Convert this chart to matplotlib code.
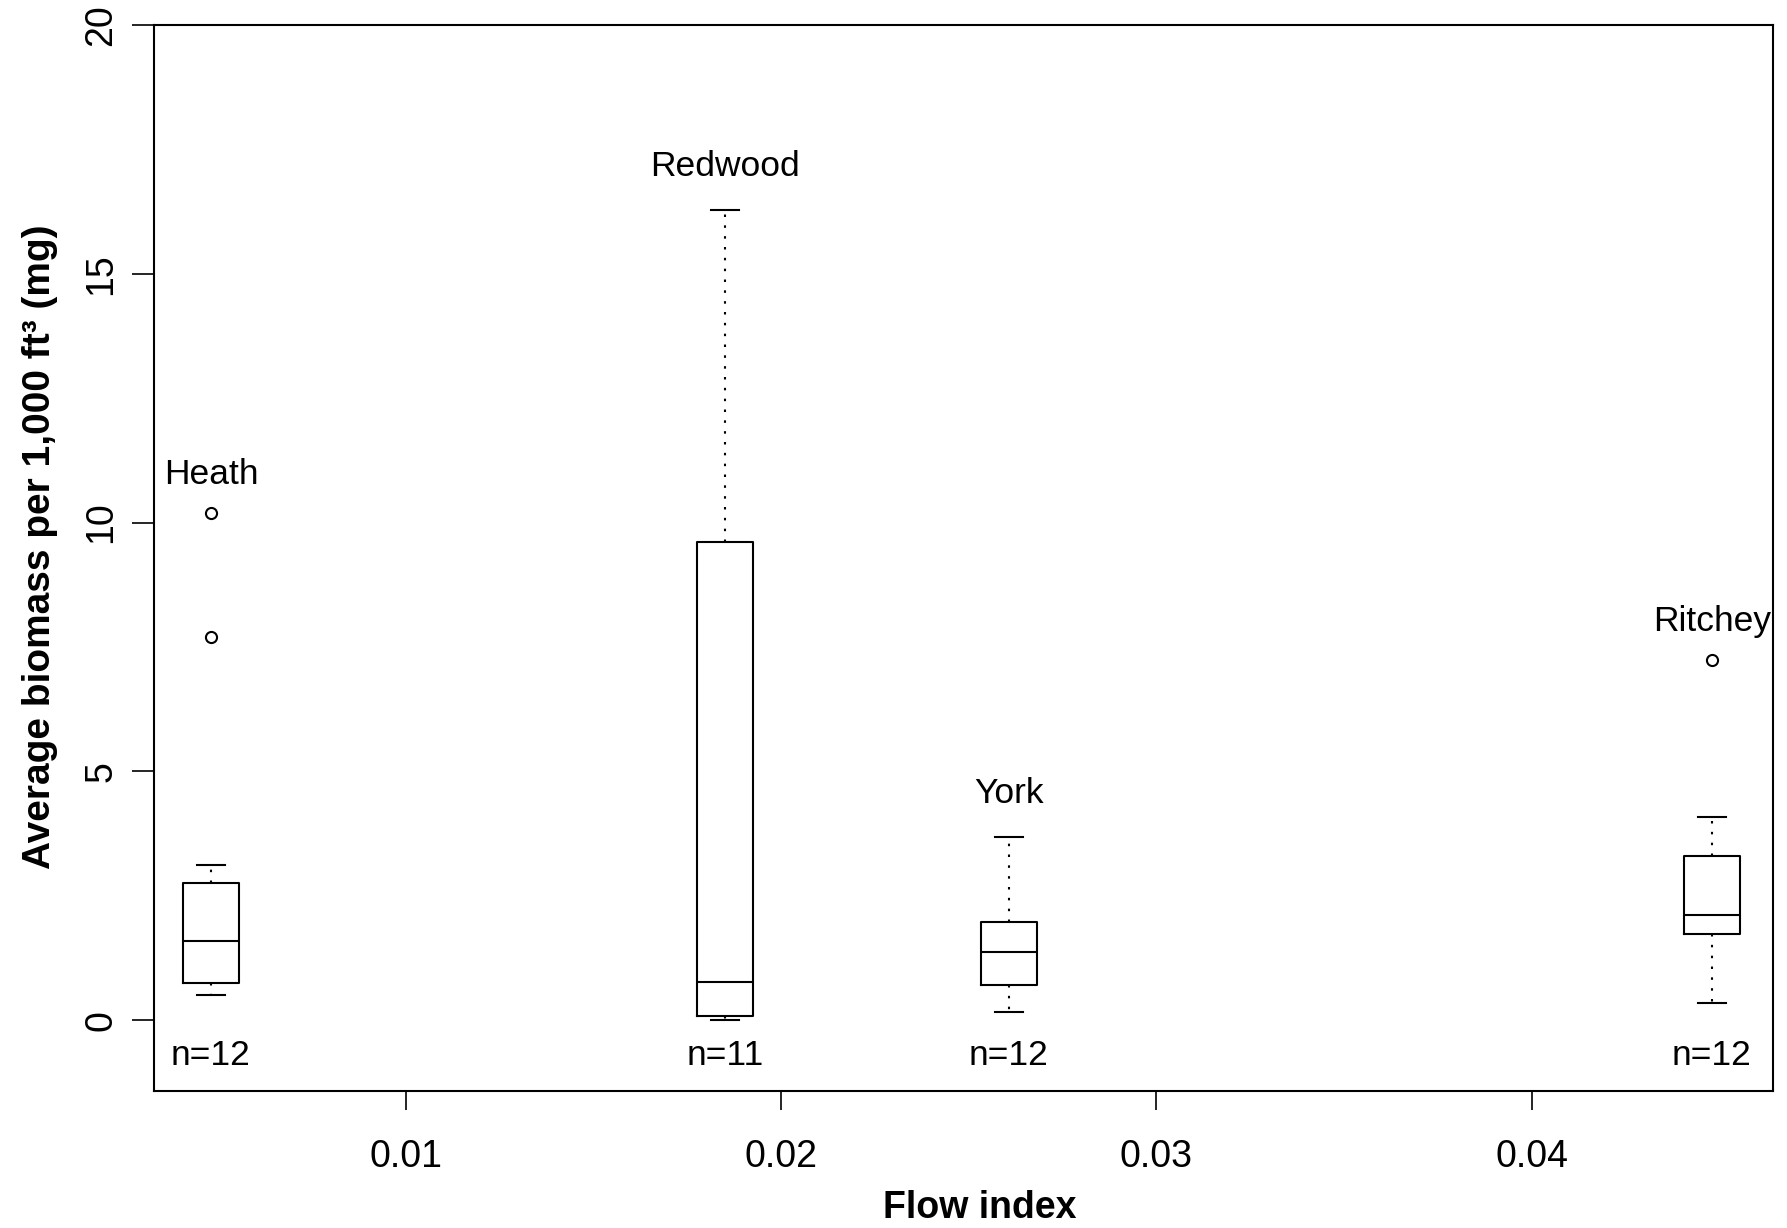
import numpy as np
import matplotlib
matplotlib.use("Agg")
import matplotlib.pyplot as plt

plt.rcParams['font.family'] = ['Liberation Sans', 'DejaVu Sans']

# sites and their flow index (box positions)
sites = ["Heath", "Redwood", "York", "Ritchey"]
flow_index = [0.00481, 0.01851, 0.02607, 0.0448]
n_obs = [12, 11, 12, 12]

# box summaries per site
whisk_lo = [0.50, 0.00, 0.16, 0.34]
q1 = [0.74, 0.09, 0.71, 1.72]
median = [1.59, 0.76, 1.37, 2.11]
q3 = [2.76, 9.60, 1.97, 3.30]
whisk_hi = [3.12, 16.29, 3.67, 4.08]
outliers = [[10.19, 7.69], [], [], [7.24]]

# where the site names sit
label_y = [10.97, 17.16, 4.56, 8.02]

fig = plt.figure(figsize=(17.87, 12.28), dpi=100)
ax = fig.add_axes([0.0861, 0.1118, 0.9063, 0.8678])

stats = []
for i in range(len(sites)):
    stats.append(dict(med=median[i], q1=q1[i], q3=q3[i],
                      whislo=whisk_lo[i], whishi=whisk_hi[i],
                      fliers=outliers[i]))

lw = 1.5
ax.bxp(stats, positions=flow_index, widths=0.0015, manage_ticks=False,
       boxprops=dict(color='black', linewidth=lw),
       medianprops=dict(color='black', linewidth=lw),
       whiskerprops=dict(color='black', linewidth=lw, linestyle=(0, (1.2, 4))),
       capprops=dict(color='black', linewidth=lw),
       capwidths=0.00075,
       flierprops=dict(marker='o', markersize=8, markerfacecolor='none',
                       markeredgecolor='black', markeredgewidth=1.5))

for i in range(len(sites)):
    ax.text(flow_index[i], label_y[i], sites[i], ha='center', va='center', fontsize=25.5)
    ax.text(flow_index[i], -0.71, "n=%d" % n_obs[i], ha='center', va='center', fontsize=25.5)

ax.set_xlim(0.00329, 0.04644)
ax.set_ylim(-1.42, 20)
ax.set_xticks([0.01, 0.02, 0.03, 0.04])
ax.set_xticklabels(["0.01", "0.02", "0.03", "0.04"])
ax.set_yticks([0, 5, 10, 15, 20])
ax.set_yticklabels(["0", "5", "10", "15", "20"], rotation=90, va='center')

ax.tick_params(axis='x', length=14, width=1.2, pad=21, labelsize=27)
ax.tick_params(axis='y', length=16, width=1.2, pad=9, labelsize=27)
for s in ax.spines.values():
    s.set_linewidth(1.5)

fig.text(0.5485, 0.0165, "Flow index", ha='center', va='center',
         fontsize=27, fontweight='bold')
fig.text(0.0225, 0.5545, "Average biomass per 1,000 ft³ (mg)", ha='center', va='center',
         rotation=90, fontsize=28, fontweight='bold')

fig.savefig("out.png", dpi=100)
